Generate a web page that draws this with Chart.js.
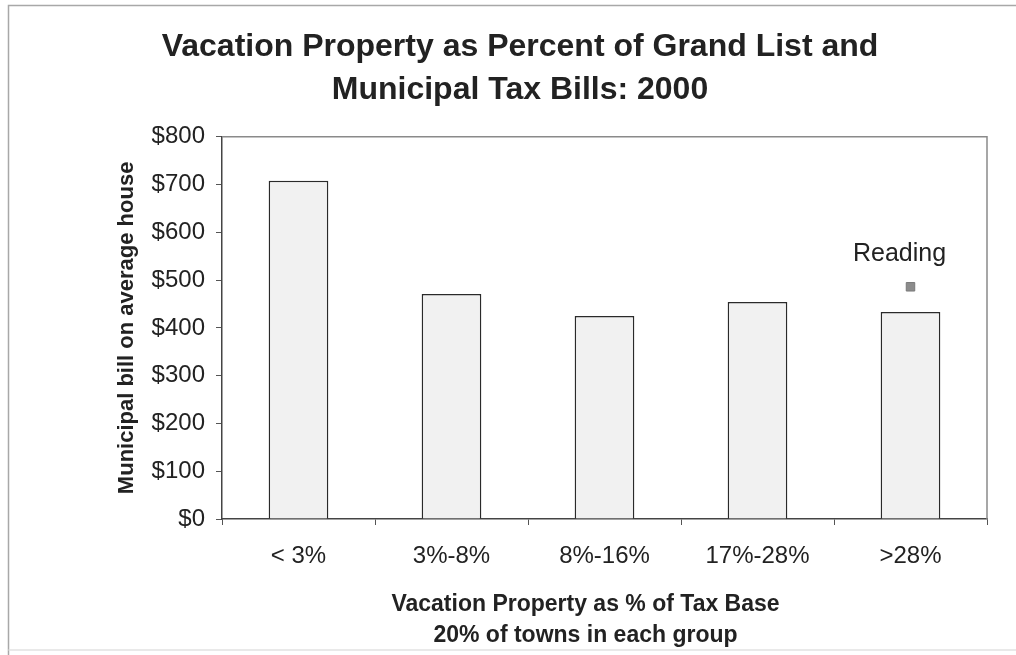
<!DOCTYPE html>
<html>
<head>
<meta charset="utf-8">
<script src="https://cdn.jsdelivr.net/npm/chart.js@4.4.1/dist/chart.umd.min.js"></script>
<style>
  html, body { margin: 0; padding: 0; background: #fff; }
  canvas { display: block; }
</style>
</head>
<body>
<canvas id="chart" width="1016" height="655"></canvas>
<script>
const categories = ['< 3%', '3%-8%', '8%-16%', '17%-28%', '>28%'];
const municipalBill = [708, 471, 425, 454, 433];
const readingBill = [null, null, null, null, 486];
const readingLabel = 'Reading';
const yTicks = [0, 100, 200, 300, 400, 500, 600, 700, 800];

const titleLines = ['Vacation Property as Percent of Grand List and', 'Municipal Tax Bills: 2000'];
const xTitleLines = ['Vacation Property as % of Tax Base', '20% of towns in each group'];
const yTitle = 'Municipal bill on average house';

const FONT = "'Liberation Sans', Arial, sans-serif";

// outer chart border + box round the plot area (top and right edges)
const frame = {
  id: 'frame',
  beforeDraw(chart) {
    const { ctx, width, height } = chart;
    ctx.save();
    ctx.strokeStyle = '#a8a8a8';
    ctx.lineWidth = 1.5;
    ctx.beginPath();
    ctx.moveTo(width, 5.5);
    ctx.lineTo(8.5, 5.5);
    ctx.lineTo(8.5, height);
    ctx.stroke();
    ctx.strokeStyle = '#e2e2e2';
    ctx.beginPath();
    ctx.moveTo(8.5, height - 5);
    ctx.lineTo(width, height - 5);
    ctx.stroke();
    ctx.restore();
  },
  afterDraw(chart) {
    const { ctx, chartArea: a } = chart;
    ctx.save();
    ctx.strokeStyle = '#8a8a8a';
    ctx.lineWidth = 1.5;
    ctx.beginPath();
    ctx.moveTo(a.left, a.top);
    ctx.lineTo(a.right, a.top);
    ctx.lineTo(a.right, a.bottom);
    ctx.stroke();
    ctx.restore();
  }
};

// text label above the Reading point, and the x axis title (sits a bit left of centre)
const extraText = {
  id: 'extraText',
  afterDatasetsDraw(chart) {
    const meta = chart.getDatasetMeta(1);
    const { ctx, chartArea: a } = chart;
    ctx.save();
    ctx.fillStyle = '#222';
    ctx.textAlign = 'center';
    ctx.textBaseline = 'middle';
    meta.data.forEach((pt, i) => {
      if (readingBill[i] === null) return;
      ctx.font = '25px ' + FONT;
      ctx.fillText(readingLabel, pt.x - 11, pt.y - 33);
    });
    const cx = (a.left + a.right) / 2 - 19;
    ctx.font = 'bold 23px ' + FONT;
    ctx.fillText(xTitleLines[0], cx, a.bottom + 86);
    ctx.fillText(xTitleLines[1], cx, a.bottom + 117);
    ctx.restore();
  }
};

new Chart(document.getElementById('chart'), {
  type: 'bar',
  data: {
    labels: categories,
    datasets: [
      {
        label: 'Municipal bill',
        data: municipalBill,
        backgroundColor: '#f1f1f1',
        borderColor: '#2a2a2a',
        borderWidth: 1.5,
        borderSkipped: 'bottom',
        categoryPercentage: 1,
        barPercentage: 0.39,
        order: 2
      },
      {
        type: 'line',
        label: readingLabel,
        data: readingBill,
        showLine: false,
        pointStyle: 'rect',
        pointRadius: 6,
        backgroundColor: '#8c8c8c',
        borderColor: '#7a7a7a',
        borderWidth: 1,
        order: 1
      }
    ]
  },
  options: {
    responsive: false,
    animation: false,
    layout: { padding: { top: 0, left: 53, right: 29, bottom: 0 } },
    plugins: {
      legend: { display: false },
      tooltip: { enabled: false },
      title: {
        display: true,
        text: titleLines,
        color: '#222',
        font: { family: FONT, size: 32, weight: 'bold', lineHeight: 1.34 },
        padding: { top: 26, bottom: 25 }
      }
    },
    scales: {
      x: {
        afterFit(scale) { scale.height = 136; },
        grid: {
          offset: true,
          drawOnChartArea: false,
          drawTicks: true,
          tickLength: 6,
          color: '#555'
        },
        border: { display: true, color: '#444', width: 1.5 },
        ticks: {
          color: '#222',
          padding: 17,
          font: { family: FONT, size: 24 }
        },
        title: { display: false }
      },
      y: {
        min: 0,
        max: 800,
        afterFit(scale) { scale.width = 169; },
        afterBuildTicks(scale) { scale.ticks = yTicks.map(v => ({ value: v })); },
        grid: {
          drawOnChartArea: false,
          drawTicks: true,
          tickLength: 6,
          color: '#555'
        },
        border: { display: true, color: '#444', width: 1.5 },
        ticks: {
          color: '#222',
          padding: 11,
          font: { family: FONT, size: 24 },
          callback: v => '$' + v
        },
        title: {
          display: true,
          text: yTitle,
          color: '#222',
          font: { family: FONT, size: 22, weight: 'bold' },
          padding: { top: 61 }
        }
      }
    }
  },
  plugins: [frame, extraText]
});
</script>
</body>
</html>
